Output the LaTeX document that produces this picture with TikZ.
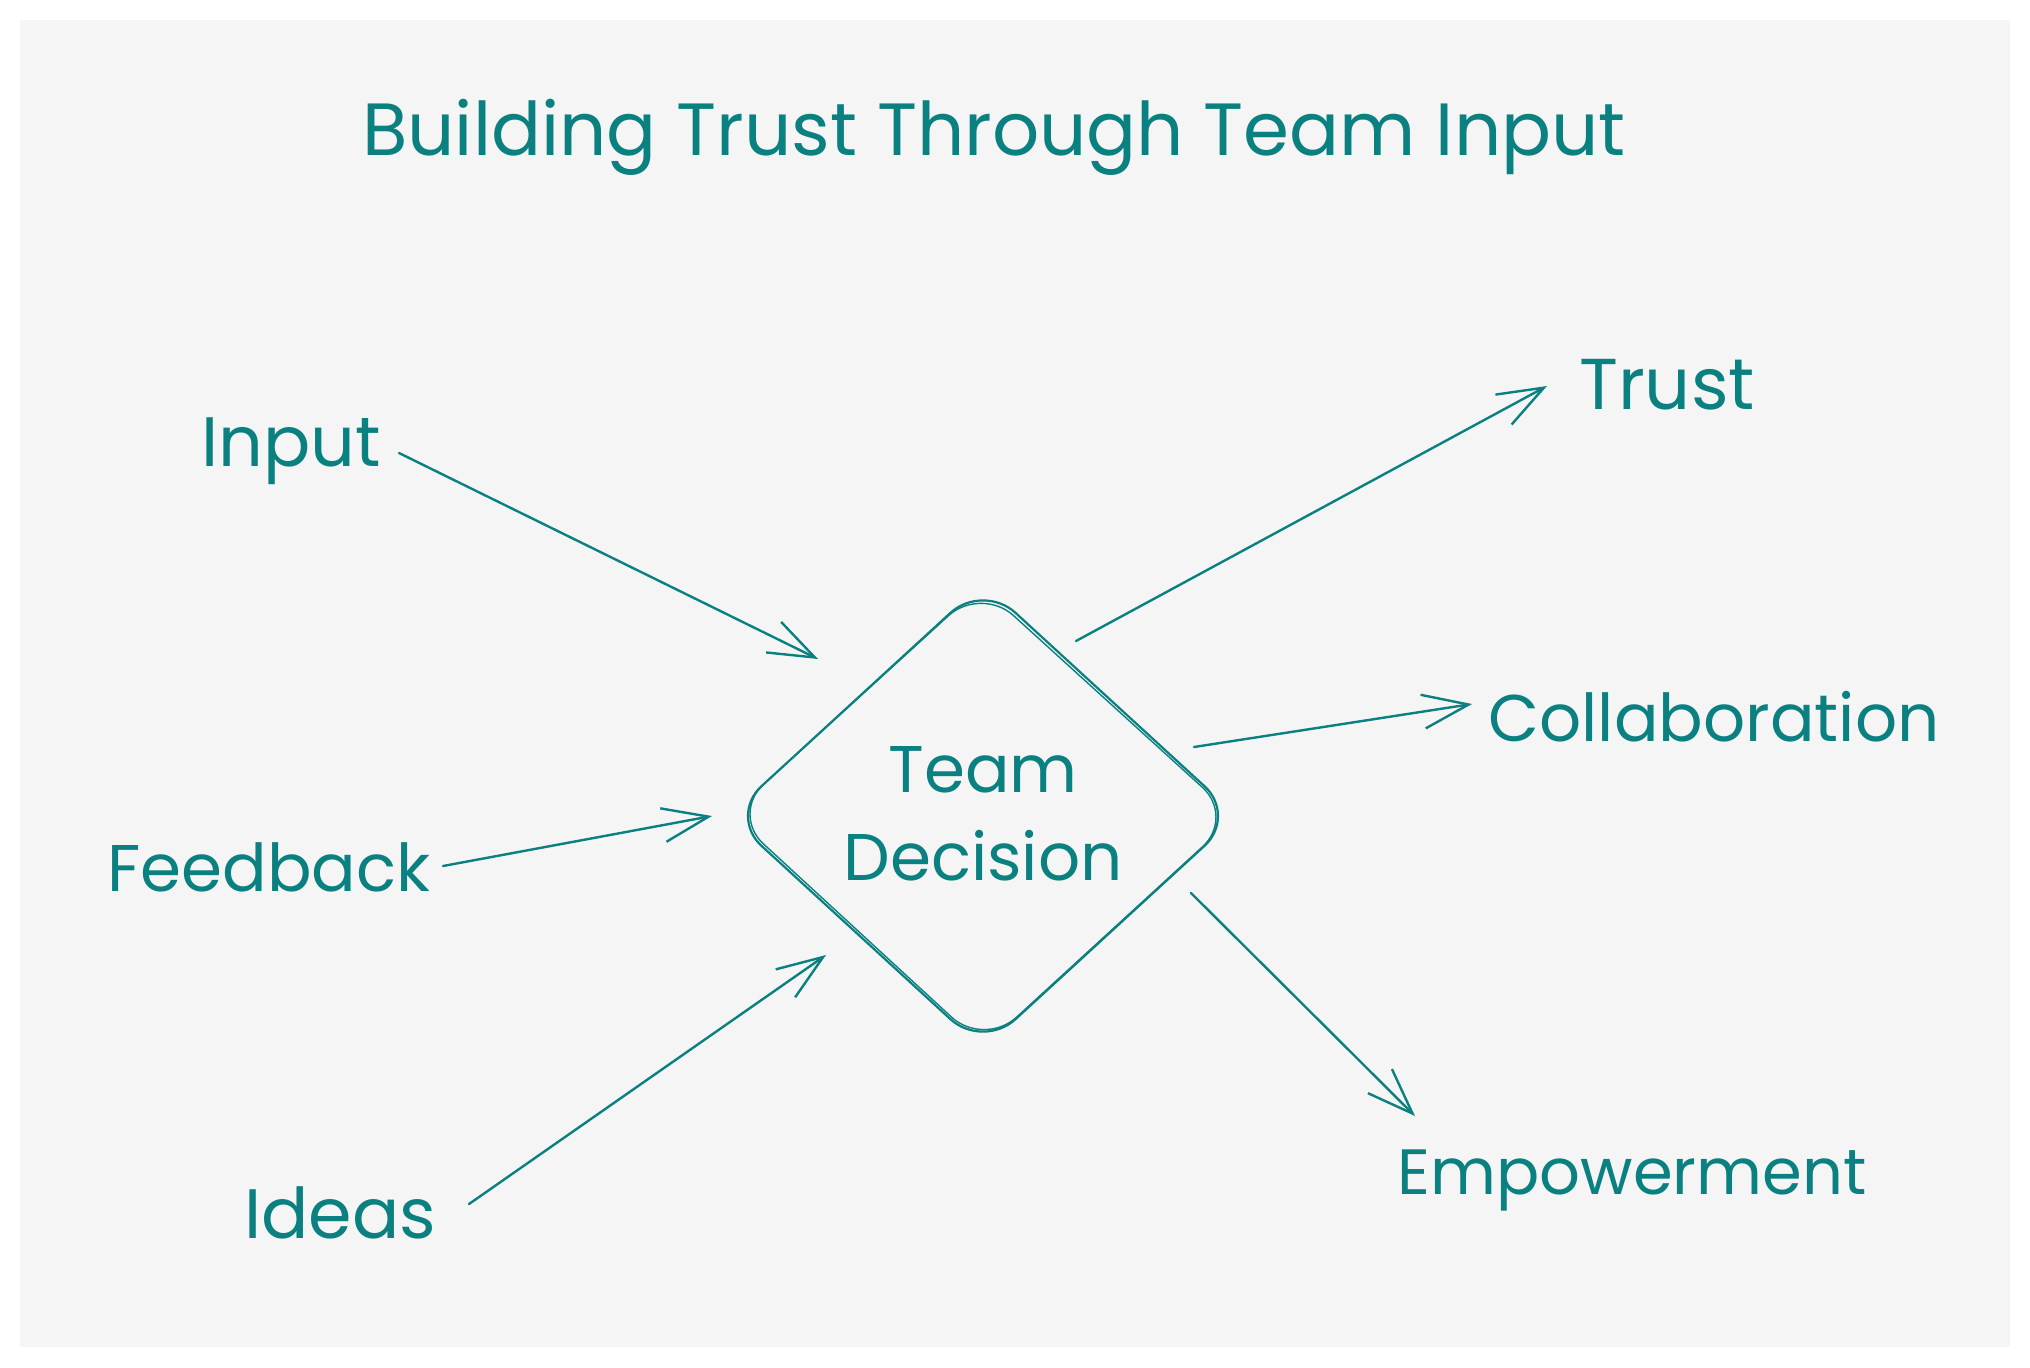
\documentclass[tikz,border=0pt]{standalone}
\usepackage{fontspec}
\setmainfont{Poppins}
\usetikzlibrary{arrows.meta}
\definecolor{teal1}{RGB}{10,128,128}
\definecolor{bg}{RGB}{245,245,245}
\tikzset{
  lbl/.style={text=teal1, anchor=base, inner sep=0pt, font=\fontsize{33}{38}\selectfont},
  conn/.style={draw=teal1, line width=1.2pt, line cap=round, -{Straight Barb[length=23pt,width=17pt,line width=1.2pt]}},
}
\begin{document}
\begin{tikzpicture}[x=0.5pt,y=-0.5pt]
\fill[white] (0,0) rectangle (2030,1367);
\useasboundingbox (0,0) rectangle (2030,1367);
\fill[bg] (20,20) rectangle (2010,1347);
% title
\node[lbl, font=\fontsize{37}{44}\selectfont] (title) at (994,155) {Building Trust Through Team Input};
% diamond
\draw[teal1, line width=1.1pt, rounded corners=22pt] (983,583) -- (1237,816) -- (983,1049) -- (729,816) -- cycle;
\draw[teal1, line width=0.7pt, rounded corners=22pt] (981,586) -- (1235,817) -- (984,1047) -- (731,814) -- cycle;
\node[lbl] (team) at (983,792) {Team};
\node[lbl] (decision) at (983,880) {Decision};
\coordinate (dec) at (983,816);
% labels
\node[lbl, font=\fontsize{35}{40}\selectfont] (input) at (291,466) {Input};
\node[lbl] (feedback) at (269,891) {Feedback};
\node[lbl, font=\fontsize{35}{40}\selectfont] (ideas) at (340,1238) {Ideas};
\node[lbl, font=\fontsize{36}{40}\selectfont] (trust) at (1667,409) {Trust};
\node[lbl] (collab) at (1714,741) {Collaboration};
\node[lbl, font=\fontsize{32}{38}\selectfont] (empower) at (1632,1194) {Empowerment};
% connector ends
\coordinate (inS) at (399,453);   \coordinate (inE) at (818,659);
\coordinate (fbS) at (443,866);   \coordinate (fbE) at (712,816);
\coordinate (idS) at (469,1204);  \coordinate (idE) at (826,955);
\coordinate (trS) at (1076,641);  \coordinate (trE) at (1547,386);
\coordinate (coS) at (1194,747);  \coordinate (coE) at (1472,704);
\coordinate (emS) at (1191,893);  \coordinate (emE) at (1415,1116);
\draw[conn] (inS) -- (inE);
\draw[conn] (fbS) -- (fbE);
\draw[conn] (idS) -- (idE);
\draw[conn] (trS) -- (trE);
\draw[conn] (coS) -- (coE);
\draw[conn] (emS) -- (emE);
\end{tikzpicture}
\end{document}
